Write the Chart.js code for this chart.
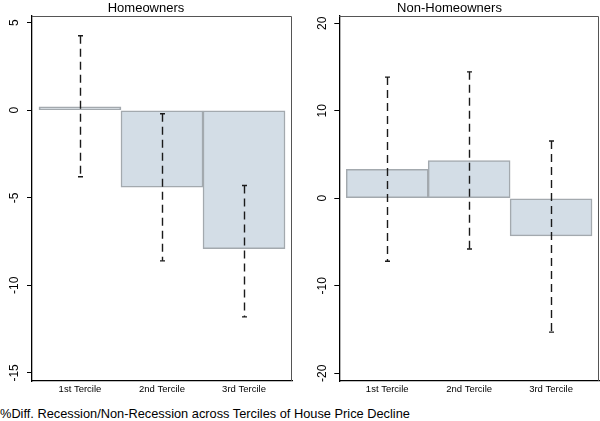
<!DOCTYPE html>
<html>
<head>
<meta charset="utf-8">
<script src="https://cdn.jsdelivr.net/npm/chart.js@4.4.0/dist/chart.umd.min.js"></script>
<style>
    body { margin: 0; background: #fff; width: 600px; height: 421px; overflow: hidden; position: relative; font-family: "Liberation Sans", Arial, sans-serif; }
    .panel { position: absolute; top: -3px; width: 300px; height: 400px; }
    #caption { position: absolute; left: 0; top: 408px; font-size: 12.8px; line-height: 12px; color: #000; white-space: nowrap; }
</style>
</head>
<body>
<div class="panel" style="left:0"><canvas id="homeChart" width="300" height="400"></canvas></div>
<div class="panel" style="left:300px"><canvas id="nonHomeChart" width="300" height="400"></canvas></div>
<div id="caption">%Diff. Recession/Non-Recession across Terciles of House Price Decline</div>
<script>
const categories = ['1st Tercile', '2nd Tercile', '3rd Tercile'];

const homeMeans = [0.2, -4.4, -7.9];
const homeLow = [-3.8, -8.6, -11.8];
const homeHigh = [4.25, -0.2, -4.3];
const homeTicks = [5, 0, -5, -10, -15];

const nonHomeMeans = [3.3, 4.3, -4.3];
const nonHomeLow = [-7.2, -5.8, -15.3];
const nonHomeHigh = [13.85, 14.45, 6.55];
const nonHomeTicks = [20, 10, 0, -10, -20];

// dashed confidence bars with small caps
const errorBars = {
    id: 'errorBars',
    afterDatasetsDraw(chart, args, opts) {
        const ctx = chart.ctx;
        const xs = chart.scales.x;
        const ys = chart.scales.y;
        ctx.save();
        ctx.strokeStyle = '#1a1a1a';
        ctx.lineWidth = 1.4;
        for (let i = 0; i < opts.low.length; i++) {
            const x = Math.round(xs.getPixelForValue(i + 1)) + 0.5;
            const yTop = ys.getPixelForValue(opts.high[i]);
            const yBot = ys.getPixelForValue(opts.low[i]);
            ctx.setLineDash([8, 5]);
            ctx.beginPath();
            ctx.moveTo(x, yTop);
            ctx.lineTo(x, yBot);
            ctx.stroke();
            ctx.setLineDash([]);
            ctx.beginPath();
            ctx.moveTo(x - 2.5, yTop);
            ctx.lineTo(x + 2.5, yTop);
            ctx.moveTo(x - 2.5, yBot);
            ctx.lineTo(x + 2.5, yBot);
            ctx.stroke();
        }
        ctx.restore();
    }
};

// top and right frame lines
const frameBox = {
    id: 'frameBox',
    afterDraw(chart) {
        const a = chart.chartArea;
        const ctx = chart.ctx;
        ctx.save();
        ctx.strokeStyle = '#555';
        ctx.lineWidth = 1;
        ctx.beginPath();
        ctx.moveTo(a.left, a.top + 0.5);
        ctx.lineTo(a.right - 0.5, a.top + 0.5);
        ctx.lineTo(a.right - 0.5, a.bottom);
        ctx.stroke();
        ctx.restore();
    }
};

function makePanel(canvasId, title, means, low, high, ticks, yMin, yMax, yWidth, yPad, rightPad) {
    const ctx = document.getElementById(canvasId).getContext('2d');
    return new Chart(ctx, {
        type: 'bar',
        data: {
            datasets: [{
                data: means.map((v, i) => ({ x: i + 1, y: v })),
                backgroundColor: '#d3dde6',
                borderColor: '#a3a9ae',
                borderWidth: 1.5,
                borderSkipped: false,
                barPercentage: 1,
                categoryPercentage: 1
            }]
        },
        options: {
            responsive: false,
            animation: false,
            layout: { padding: { left: 0, right: rightPad, top: 0, bottom: 0 } },
            plugins: {
                legend: { display: false },
                tooltip: { enabled: false },
                title: {
                    display: true,
                    text: title,
                    color: '#000',
                    font: { family: 'Liberation Sans', size: 13, weight: 'normal' },
                    padding: { top: 3.4, bottom: 0 }
                },
                errorBars: { low: low, high: high }
            },
            scales: {
                x: {
                    type: 'linear',
                    offset: false,
                    min: 0.415,
                    max: 3.585,
                    grid: { display: false, drawTicks: false },
                    border: { display: true, color: '#000', width: 1.3 },
                    afterBuildTicks: (s) => { s.ticks = categories.map((c, i) => ({ value: i + 1 })); },
                    afterFit: (s) => { s.height = 16; },
                    ticks: {
                        color: '#000',
                        padding: 3,
                        maxRotation: 0,
                        autoSkip: false,
                        font: { family: 'Liberation Sans', size: 9.5 },
                        callback: (v) => categories[v - 1]
                    }
                },
                y: {
                    min: yMin,
                    max: yMax,
                    grid: { drawOnChartArea: false, drawTicks: true, tickLength: 5, color: '#000' },
                    border: { display: true, color: '#000', width: 1.3 },
                    afterBuildTicks: (s) => { s.ticks = ticks.map(v => ({ value: v })); },
                    afterFit: (s) => { s.width = yWidth; },
                    ticks: {
                        color: '#000',
                        minRotation: 90,
                        maxRotation: 90,
                        crossAlign: 'center',
                        padding: yPad,
                        autoSkip: false,
                        font: { family: 'Liberation Sans', size: 12 }
                    }
                }
            }
        },
        plugins: [errorBars, frameBox]
    });
}

makePanel('homeChart', 'Homeowners', homeMeans, homeLow, homeHigh, homeTicks, -15.46, 5.38, 32, 3.3, 8);
makePanel('nonHomeChart', 'Non-Homeowners', nonHomeMeans, nonHomeLow, nonHomeHigh, nonHomeTicks, -20.88, 20.83, 39.3, 2.6, 1);
</script>
</body>
</html>
